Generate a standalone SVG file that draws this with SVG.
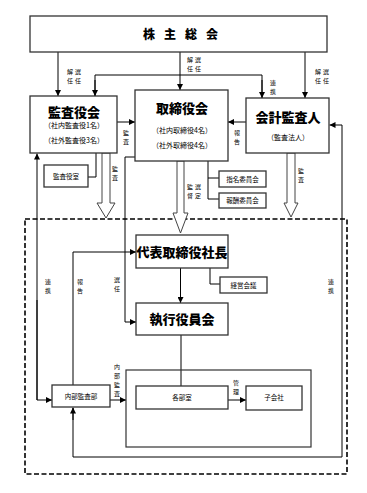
<svg xmlns="http://www.w3.org/2000/svg" width="367" height="493" viewBox="0 0 367 493">
<defs>
<marker id="ah" markerWidth="6" markerHeight="6" refX="6" refY="3" orient="auto" markerUnits="userSpaceOnUse">
<path d="M0,0 L6,3 L0,6 z" fill="#000"/>
</marker>
<style>
.box{fill:#fff;stroke:#333;stroke-width:1.3}
.ln{fill:none;stroke:#000;stroke-width:1}
.arr{fill:none;stroke:#000;stroke-width:1;marker-end:url(#ah)}
.hol{fill:#fff;stroke:#444;stroke-width:1}
.t{font-family:"Noto Sans CJK JP","Noto Sans CJK SC",sans-serif;fill:#000;text-anchor:middle}
.title{font-size:13px;font-weight:900}
.sub{font-size:7px}
.lab{font-size:6px}
.small{font-size:6.5px}
</style>
</defs>
<rect width="367" height="493" fill="#fff"/>

<!-- dashed container -->
<rect x="25" y="219" width="322" height="255" fill="none" stroke="#000" stroke-width="1.6" stroke-dasharray="5,2.5"/>

<g id="connectors">
<line class="arr" x1="58" y1="52" x2="58" y2="96"/>
<line class="arr" x1="180" y1="52" x2="180" y2="90"/>
<line class="arr" x1="305" y1="52" x2="305" y2="98"/>
<polyline class="ln" points="95,96 95,75 262,75 262,98"/>
<line class="arr" x1="95" y1="80" x2="95" y2="96"/>
<line class="arr" x1="262" y1="80" x2="262" y2="98"/>
<line class="arr" x1="117" y1="122" x2="135" y2="122"/>
<line class="arr" x1="246" y1="122" x2="228" y2="122"/>
<polyline class="ln" points="96,153 96,177 88,177"/>
<polyline class="ln" points="208,161 208,199 219,199"/>
<line class="ln" x1="208" y1="178" x2="219" y2="178"/>
<polyline class="ln" points="210,268 210,284 220,284"/>
<polygon class="hol" points="102,153 102,203 97,203 106,218 115,203 110,203 110,153"/>
<polygon class="hol" points="177,161 177,213 173,213 180.5,233 188,213 184,213 184,161"/>
<polygon class="hol" points="287,153 287,203 284,203 291,217 298,203 295,203 295,153"/>
<polyline class="arr" points="37,400 37,153.5"/>
<polyline class="arr" points="37,300 37,400 52,400"/>
<polyline class="ln" points="135,157 125,157 125,322"/>
<line class="arr" x1="125" y1="322" x2="136" y2="322"/>
<polyline class="ln" points="73,385 73,252"/>
<line class="arr" x1="73" y1="252" x2="136" y2="252"/>
<line class="arr" x1="180.5" y1="268" x2="180.5" y2="303"/>
<line class="ln" x1="181" y1="335" x2="181" y2="386"/>
<line class="arr" x1="110" y1="400" x2="126" y2="400"/>
<line class="arr" x1="228" y1="400" x2="246" y2="400"/>
<polyline class="ln" points="73,408 73,457 342,457 342,125"/>
<line class="arr" x1="342" y1="125" x2="329.5" y2="125"/>
<line class="arr" x1="73" y1="420" x2="73" y2="407.5"/>
<rect x="126" y="370" width="185" height="77" fill="none" stroke="#333" stroke-width="1.2"/>
</g>

<g id="n-shareholders">
<rect class="box" x="30" y="16" width="297" height="36"/>
<text class="t" x="185" y="39" font-size="12" font-weight="900" letter-spacing="9">株主総会</text>
</g>

<g id="n-kansayakukai">
<rect class="box" x="30" y="96" width="87" height="57"/>
<text class="t title" x="74" y="117">監査役会</text>
<text class="t sub" x="74" y="128">（社内監査役1名）</text>
<text class="t sub" x="74" y="143">（社外監査役3名）</text>
</g>

<g id="n-torishimariyakukai">
<rect class="box" x="135" y="90" width="93" height="71"/>
<text class="t title" x="182" y="113">取締役会</text>
<text class="t sub" x="182" y="133">（社内取締役4名）</text>
<text class="t sub" x="182" y="148">（社外取締役4名）</text>
</g>

<g id="n-kaikei">
<rect class="box" x="246" y="98" width="83" height="55"/>
<text class="t title" x="288" y="122">会計監査人</text>
<text class="t sub" x="288" y="140">（監査法人）</text>
</g>

<g id="n-kansayakushitsu">
<rect class="box" x="44" y="165" width="44" height="22"/>
<text class="t small" x="66" y="178.5">監査役室</text>
</g>

<g id="n-shimei">
<rect class="box" x="219" y="171" width="47" height="16"/>
<text class="t small" x="242.5" y="181.5">指名委員会</text>
</g>

<g id="n-houshuu">
<rect class="box" x="219" y="193" width="47" height="15"/>
<text class="t small" x="242.5" y="203">報酬委員会</text>
</g>

<g id="n-daihyo">
<rect class="box" x="136" y="235" width="92" height="33"/>
<text class="t title" x="182" y="256.5" font-size="12.5">代表取締役社長</text>
</g>

<g id="n-keiei">
<rect class="box" x="220" y="277" width="47" height="16"/>
<text class="t small" x="243.5" y="287.5">経営会議</text>
</g>

<g id="n-shikkou">
<rect class="box" x="136" y="303" width="92" height="32"/>
<text class="t title" x="182" y="324">執行役員会</text>
</g>

<g id="n-naibukansa">
<rect class="box" x="52" y="385" width="58" height="22"/>
<text class="t small" x="81" y="398.5">内部監査部</text>
</g>

<g id="n-kakubu">
<rect class="box" x="136" y="386" width="92" height="23"/>
<text class="t small" x="182" y="400">各部室</text>
</g>

<g id="n-kogaisha">
<rect class="box" x="246" y="386" width="56" height="24"/>
<text class="t small" x="274" y="400">子会社</text>
</g>

<g id="labels">
<text class="t lab" x="75" y="74" letter-spacing="2">解選</text>
<text class="t lab" x="75" y="83" letter-spacing="2">任任</text>
<text class="t lab" x="195" y="62" letter-spacing="2">解選</text>
<text class="t lab" x="195" y="71" letter-spacing="2">任任</text>
<text class="t lab" x="323" y="74" letter-spacing="2">解選</text>
<text class="t lab" x="323" y="83" letter-spacing="2">任任</text>
<text class="t lab" x="273" y="85">連</text>
<text class="t lab" x="273" y="94">携</text>
<text class="t lab" x="126" y="135">監</text>
<text class="t lab" x="126" y="144">査</text>
<text class="t lab" x="237" y="135">報</text>
<text class="t lab" x="237" y="144">告</text>
<text class="t lab" x="115" y="171">監</text>
<text class="t lab" x="115" y="180">査</text>
<text class="t lab" x="301" y="173">監</text>
<text class="t lab" x="301" y="182">査</text>
<text class="t lab" x="195" y="189" letter-spacing="2">監選</text>
<text class="t lab" x="195" y="198" letter-spacing="2">督定</text>
<text class="t lab" x="48" y="284">連</text>
<text class="t lab" x="48" y="293">携</text>
<text class="t lab" x="80" y="284">報</text>
<text class="t lab" x="80" y="293">告</text>
<text class="t lab" x="117" y="282">選</text>
<text class="t lab" x="117" y="291">任</text>
<text class="t lab" x="331" y="284">連</text>
<text class="t lab" x="331" y="293">携</text>
<text class="t lab" x="117" y="369">内</text>
<text class="t lab" x="117" y="378">部</text>
<text class="t lab" x="117" y="387">監</text>
<text class="t lab" x="117" y="396">査</text>
<text class="t lab" x="236" y="385">管</text>
<text class="t lab" x="236" y="394">理</text>
</g>
</svg>
